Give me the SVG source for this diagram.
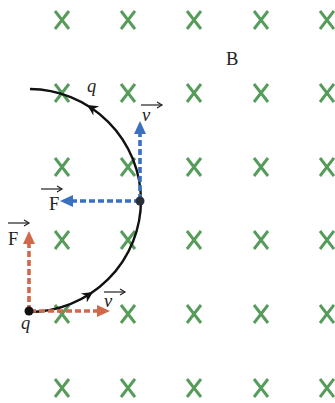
<svg xmlns="http://www.w3.org/2000/svg" width="335" height="403" viewBox="0 0 335 403">
<style>
.x{stroke:#559c5a;stroke-width:2.9;fill:none;stroke-linecap:butt}
.lbl{font-family:"Liberation Serif","DejaVu Serif",serif;font-size:18.5px;fill:#222}
.it{font-style:italic}
.vec{stroke:#222;stroke-width:1.2;fill:none}
.bl{stroke:#3b6fc0;stroke-width:3.6;stroke-dasharray:6 3;fill:none}
.rd{stroke:#d0694a;stroke-width:3.6;stroke-dasharray:6 3;fill:none}
</style>
<defs>
<path id="xm" d="M-7,-9 L7,9 M7,-9 L-7,9"/>
<path id="vh" d="M-5,-3 L0,0 L-5,3"/>
</defs>
<rect width="335" height="403" fill="#fff"/>
<g id="field">
<g class="x">
<use href="#xm" x="62" y="20"/><use href="#xm" x="128" y="20"/><use href="#xm" x="194" y="20"/><use href="#xm" x="261" y="20"/><use href="#xm" x="327" y="20"/>
<use href="#xm" x="62" y="93"/><use href="#xm" x="128" y="93"/><use href="#xm" x="194" y="93"/><use href="#xm" x="261" y="93"/><use href="#xm" x="327" y="93"/>
<use href="#xm" x="62" y="167"/><use href="#xm" x="128" y="167"/><use href="#xm" x="194" y="167"/><use href="#xm" x="261" y="167"/><use href="#xm" x="327" y="167"/>
<use href="#xm" x="62" y="240"/><use href="#xm" x="128" y="240"/><use href="#xm" x="194" y="240"/><use href="#xm" x="261" y="240"/><use href="#xm" x="327" y="240"/>
<use href="#xm" x="62" y="314"/><use href="#xm" x="128" y="314"/><use href="#xm" x="194" y="314"/><use href="#xm" x="261" y="314"/><use href="#xm" x="327" y="314"/>
<use href="#xm" x="62" y="388"/><use href="#xm" x="128" y="388"/><use href="#xm" x="194" y="388"/><use href="#xm" x="261" y="388"/><use href="#xm" x="327" y="388"/>
</g>
<text class="lbl" x="226" y="65">B</text>
</g>
<g id="connectors">
<path id="trajectory" d="M29,312 A112,112 0 0 0 141,200 A112,112 0 0 0 30,89" stroke="#111" stroke-width="2.4" fill="none"/>
<path d="M0,0 L-11,-5.5 L-7.5,0 L-11,5.5 Z" fill="#111" transform="translate(93,292) rotate(-33)"/>
<path d="M0,0 L-11,-5.5 L-7.5,0 L-11,5.5 Z" fill="#111" transform="translate(87,105) rotate(-148)"/>
<g id="blue-arrows">
<path class="bl" d="M140,200 L140,132"/>
<path d="M140,121 L146,134 L134,134 Z" fill="#3b6fc0"/>
<path class="bl" d="M140,201 L72,201"/>
<path d="M60,201 L73,195 L73,207 Z" fill="#3b6fc0"/>
</g>
<g id="red-arrows">
<path class="rd" d="M29,311 L29,243"/>
<path d="M29,231 L35,244 L23,244 Z" fill="#d0694a"/>
<path class="rd" d="M30,311 L98,311"/>
<path d="M110,311 L97,305 L97,317 Z" fill="#d0694a"/>
</g>
</g>
<g id="charge-bottom">
<circle cx="29" cy="311" r="4.5" fill="#111"/>
<text class="lbl it" x="21" y="329">q</text>
</g>
<g id="charge-top">
<circle cx="140" cy="201" r="4.5" fill="#2a2f3a"/>
<text class="lbl it" x="87" y="92">q</text>
</g>
<g id="label-v-top">
<text class="lbl it" x="142" y="121">v</text>
<path class="vec" d="M141,105 L162,105"/><use href="#vh" x="162" y="105" class="vec"/>
</g>
<g id="label-F-top">
<text class="lbl" x="49" y="210">F</text>
<path class="vec" d="M41,189 L62,189"/><use href="#vh" x="62" y="189" class="vec"/>
</g>
<g id="label-F-bottom">
<text class="lbl" x="8" y="245">F</text>
<path class="vec" d="M8,223 L29,223"/><use href="#vh" x="29" y="223" class="vec"/>
</g>
<g id="label-v-bottom">
<text class="lbl it" x="104" y="307">v</text>
<path class="vec" d="M104,292 L125,292"/><use href="#vh" x="125" y="292" class="vec"/>
</g>
</svg>
